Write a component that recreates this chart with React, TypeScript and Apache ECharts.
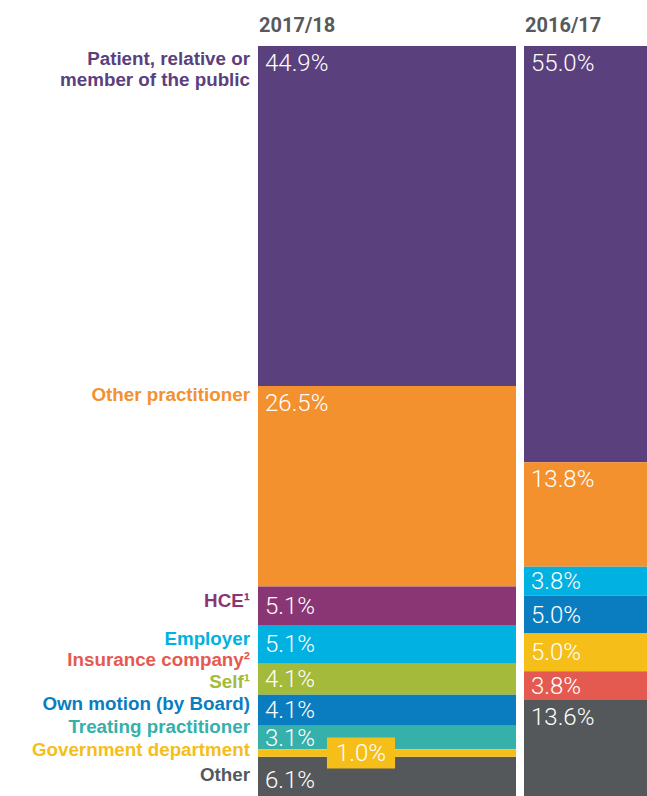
import React, { useEffect, useRef } from "react";
import * as echarts from "echarts";

const years = ["2017/18", "2016/17"];

const cats2017 = [
  "Patient, relative or member of the public",
  "Other practitioner",
  "HCE",
  "Employer",
  "Self",
  "Own motion (by Board)",
  "Treating practitioner",
  "Government department",
  "Other",
];
const values2017 = [44.9, 26.5, 5.1, 5.1, 4.1, 4.1, 3.1, 1.0, 6.1];

const cats2016 = [
  "Patient, relative or member of the public",
  "Other practitioner",
  "Employer",
  "Own motion (by Board)",
  "Government department",
  "Insurance company",
  "Other",
];
const values2016 = [55.0, 13.8, 3.8, 5.0, 5.0, 3.8, 13.6];

const labelLines = [
  "Patient, relative or",
  "member of the public",
  "Other practitioner",
  "HCE¹",
  "Employer",
  "Insurance company²",
  "Self¹",
  "Own motion (by Board)",
  "Treating practitioner",
  "Government department",
  "Other",
];
const labelCats = [
  "Patient, relative or member of the public",
  "Patient, relative or member of the public",
  "Other practitioner",
  "HCE",
  "Employer",
  "Insurance company",
  "Self",
  "Own motion (by Board)",
  "Treating practitioner",
  "Government department",
  "Other",
];

// layout (styles / positions)
const COLORS: Record<string, string> = {
  "Patient, relative or member of the public": "#5B407E",
  "Other practitioner": "#F3912F",
  HCE: "#8A3574",
  Employer: "#00B1E1",
  "Insurance company": "#E55A50",
  Self: "#A4BA3B",
  "Own motion (by Board)": "#0A7DC1",
  "Treating practitioner": "#35B0AB",
  "Government department": "#F5BE19",
  Other: "#55585B",
};
const LABEL_Y = [58, 79.5, 394, 600, 638, 659.5, 681, 703.5, 726, 749, 774];
const GRID_TOP = 46;
const GRID_H = 757;
const COLS = [
  { left: 258, width: 258 },
  { left: 524, width: 124 },
];

function makeSeries(cats: string[], vals: number[], idx: number) {
  return cats.map((c, i) => {
    const v = vals[i];
    const isGovSmall = c === "Government department" && v < 2;
    const base = {
      show: true,
      color: "#fff",
      fontFamily: "Roboto",
      fontWeight: 300,
      fontSize: 24,
      formatter: (p: any) => p.value.toFixed(1) + "%",
    };
    let label: any;
    if (isGovSmall) {
      label = {
        ...base,
        position: "inside",
        offset: [-26, 0],
        backgroundColor: COLORS[c],
        padding: [4, 9, 3, 9],
      };
    } else if (v >= 10) {
      label = {
        ...base,
        position: "insideTopLeft",
        distance: 6,
        offset: [1, -1],
      };
    } else {
      label = {
        ...base,
        position: "insideLeft",
        distance: 7,
      };
    }
    return {
      type: "bar",
      name: c,
      stack: "s" + idx,
      xAxisIndex: idx,
      yAxisIndex: idx,
      barWidth: "100%",
      z: isGovSmall ? 5 : 2,
      itemStyle: { color: COLORS[c] },
      label,
      data: [v],
      silent: true,
    };
  });
}

export default function App() {
  const ref = useRef<HTMLDivElement>(null);
  useEffect(() => {
    if (!ref.current) return;
    const chart = echarts.init(ref.current, undefined, { renderer: "svg" });
    const grids = COLS.map((c) => ({
      left: c.left,
      width: c.width,
      top: GRID_TOP,
      height: GRID_H,
      containLabel: false,
      outerBoundsMode: "none",
    }));
    const xAxes = years.map((y, i) => ({
      type: "category",
      gridIndex: i,
      data: [y],
      show: false,
    }));
    const yAxes = years.map((_, i) => ({
      type: "value",
      gridIndex: i,
      min: 0,
      max: 100,
      inverse: true,
      show: false,
    }));
    const graphics: any[] = [];
    years.forEach((y, i) => {
      graphics.push({
        type: "text",
        x: COLS[i].left + 1,
        y: 25,
        style: {
          text: y,
          fill: "#58595B",
          fontFamily: "Roboto",
          fontWeight: 700,
          fontSize: 20,
          align: "left",
          verticalAlign: "middle",
        },
      });
    });
    labelLines.forEach((n, i) => {
      graphics.push({
        type: "text",
        x: 250,
        y: LABEL_Y[i],
        style: {
          text: n,
          fill: COLORS[labelCats[i]],
          fontFamily: "Liberation Sans",
          fontWeight: 700,
          fontSize: 18.8,
          lineHeight: 19,
          align: "right",
          verticalAlign: "middle",
        },
      });
    });
    chart.setOption({
      animation: false,
      grid: grids,
      xAxis: xAxes,
      yAxis: yAxes,
      series: [
        ...makeSeries(cats2017, values2017, 0),
        ...makeSeries(cats2016, values2016, 1),
      ],
      graphic: graphics,
    });
    return () => chart.dispose();
  }, []);
  return (
    <div
      ref={ref}
      style={{ position: "absolute", left: 0, top: 0, width: 647, height: 796 }}
    />
  );
}
